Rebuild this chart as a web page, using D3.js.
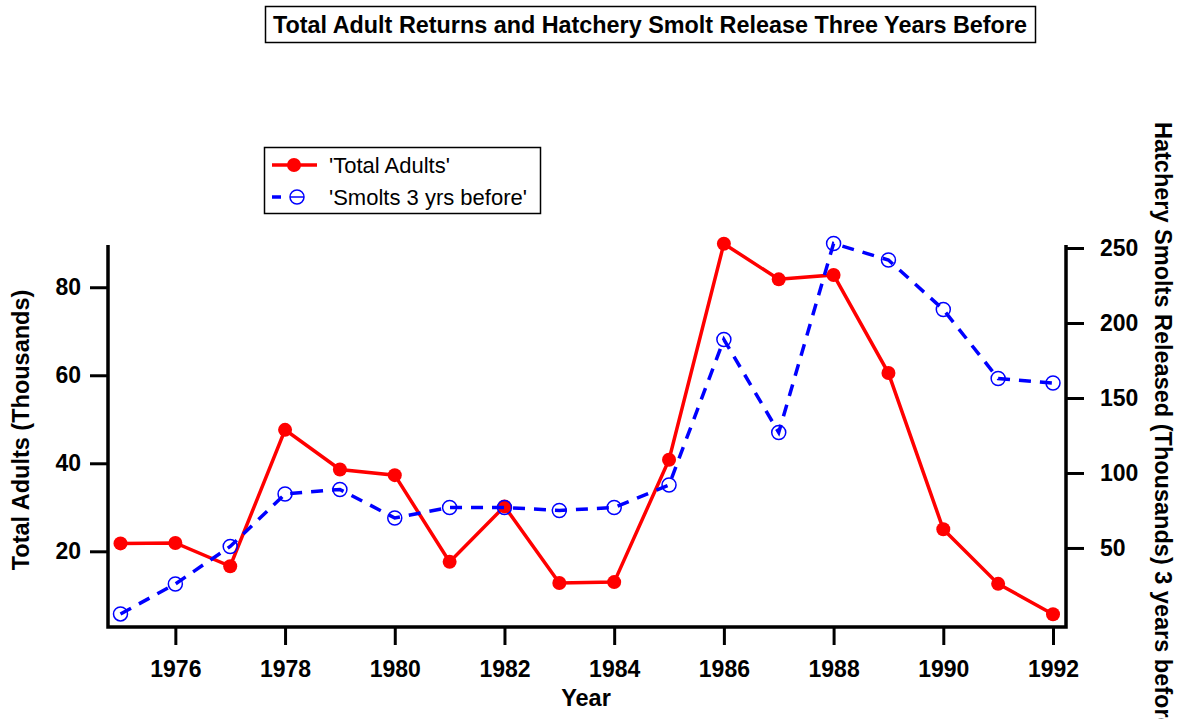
<!DOCTYPE html>
<html>
<head>
<meta charset="utf-8">
<script src="https://cdn.jsdelivr.net/npm/d3@7"></script>
<style>
  body { margin: 0; background: #fff; }
  text { font-family: "Liberation Sans", Arial, sans-serif; }
</style>
</head>
<body>
<script>
// values
const years = [1975, 1976, 1977, 1978, 1979, 1980, 1981, 1982, 1983, 1984, 1985, 1986, 1987, 1988, 1989, 1990, 1991, 1992];
const totalAdults = [21.8, 21.9, 16.6, 47.6, 38.6, 37.3, 17.6, 30.2, 12.8, 13.0, 40.8, 89.9, 81.8, 82.8, 60.5, 25.0, 12.6, 5.7];
const smolts = [6, 26, 51, 86, 89, 70, 77, 77, 75, 77, 92, 189, 127, 253, 242, 209, 163, 160];
const xTicks = [1976, 1978, 1980, 1982, 1984, 1986, 1988, 1990, 1992];
const leftTicks = [20, 40, 60, 80];
const rightTicks = [50, 100, 150, 200, 250];

const W = 1187, H = 719;
const svg = d3.select("body").append("svg").attr("width", W).attr("height", H);

const axL = 108, axR = 1066, axT = 245, axB = 627;
const x = d3.scaleLinear().domain([1975, 1992]).range([120.5, 1053]);
const yL = d3.scaleLinear().domain([2.8, 89.6]).range([axB, axT]);
const yR = d3.scaleLinear().domain([-2.7, 252]).range([axB, axT]);

// title box
const title = svg.append("g");
title.append("rect").attr("x", 265.5).attr("y", 6.5).attr("width", 770).attr("height", 36)
    .attr("fill", "#fff").attr("stroke", "#000").attr("stroke-width", 1.5);
title.append("text").attr("x", 650).attr("y", 32.5).attr("text-anchor", "middle")
    .attr("font-size", 23).attr("font-weight", "bold")
    .attr("textLength", 754).attr("lengthAdjust", "spacingAndGlyphs")
    .text("Total Adult Returns and Hatchery Smolt Release Three Years Before");

// axes
function styleAxis(g) {
    g.select(".domain").remove();
    g.selectAll(".tick line").attr("stroke", "#000").attr("stroke-width", 3);
    g.selectAll(".tick text").attr("font-size", 23).attr("font-weight", "bold")
        .attr("fill", "#000").style("font-family", "'Liberation Sans', Arial, sans-serif");
}

svg.append("g").attr("transform", `translate(0,${axB + 1})`)
    .call(d3.axisBottom(x).tickValues(xTicks).tickFormat(d3.format("d")).tickSize(17).tickPadding(16))
    .call(styleAxis);
svg.append("g").attr("transform", `translate(${axL - 1},0)`)
    .call(d3.axisLeft(yL).tickValues(leftTicks).tickSize(17).tickPadding(9))
    .call(styleAxis);
svg.append("g").attr("transform", `translate(${axR + 1},0)`)
    .call(d3.axisRight(yR).tickValues(rightTicks).tickSize(17).tickPadding(16))
    .call(styleAxis);

// axis frame lines
svg.append("path")
    .attr("d", `M${axL},${axT}V${axB}H${axR}V${axT}`)
    .attr("fill", "none").attr("stroke", "#000").attr("stroke-width", 3.5);

// axis labels
svg.append("text").attr("x", 586).attr("y", 706).attr("text-anchor", "middle")
    .attr("font-size", 23.5).attr("font-weight", "bold").text("Year");
svg.append("text").attr("transform", "translate(29,430) rotate(-90)").attr("text-anchor", "middle")
    .attr("font-size", 23.5).attr("font-weight", "bold").text("Total Adults (Thousands)");
svg.append("text").attr("transform", "translate(1155,122) rotate(90)").attr("text-anchor", "start")
    .attr("font-size", 23.5).attr("font-weight", "bold")
    .text("Hatchery Smolts Released (Thousands) 3 years before");

// series
const adultData = years.map((d, i) => ({ year: d, v: totalAdults[i] }));
const smoltData = years.map((d, i) => ({ year: d, v: smolts[i] }));

svg.append("path").datum(adultData)
    .attr("d", d3.line().x(d => x(d.year)).y(d => yL(d.v)))
    .attr("fill", "none").attr("stroke", "#ff0000").attr("stroke-width", 3.5);
svg.selectAll("circle.adult").data(adultData).enter()
    .append("circle").attr("class", "adult")
    .attr("cx", d => x(d.year)).attr("cy", d => yL(d.v)).attr("r", 7)
    .attr("fill", "#ff0000");

svg.selectAll("circle.smolt").data(smoltData).enter()
    .append("circle").attr("class", "smolt")
    .attr("cx", d => x(d.year)).attr("cy", d => yR(d.v)).attr("r", 7)
    .attr("fill", "none").attr("stroke", "#0000ff").attr("stroke-width", 1.5);
svg.append("path").datum(smoltData)
    .attr("d", d3.line().x(d => x(d.year)).y(d => yR(d.v)))
    .attr("fill", "none").attr("stroke", "#0000ff").attr("stroke-width", 3.5)
    .attr("stroke-dasharray", "12,9");

// legend
const lg = svg.append("g");
lg.append("rect").attr("x", 264.5).attr("y", 147.5).attr("width", 276).attr("height", 66)
    .attr("fill", "#fff").attr("stroke", "#000").attr("stroke-width", 1.5);
lg.append("line").attr("x1", 272).attr("x2", 317).attr("y1", 165).attr("y2", 165)
    .attr("stroke", "#ff0000").attr("stroke-width", 3.5);
lg.append("circle").attr("cx", 294).attr("cy", 165).attr("r", 7).attr("fill", "#ff0000");
lg.append("line").attr("x1", 272).attr("x2", 281).attr("y1", 197).attr("y2", 197)
    .attr("stroke", "#0000ff").attr("stroke-width", 3.5);
lg.append("circle").attr("cx", 297).attr("cy", 197).attr("r", 7)
    .attr("fill", "none").attr("stroke", "#0000ff").attr("stroke-width", 1.5);
lg.append("line").attr("x1", 290).attr("x2", 304).attr("y1", 197).attr("y2", 197)
    .attr("stroke", "#0000ff").attr("stroke-width", 1.5);
lg.append("text").attr("x", 329).attr("y", 173).attr("font-size", 22).text("'Total Adults'");
lg.append("text").attr("x", 329).attr("y", 205).attr("font-size", 22).text("'Smolts 3 yrs before'");
</script>
</body>
</html>
